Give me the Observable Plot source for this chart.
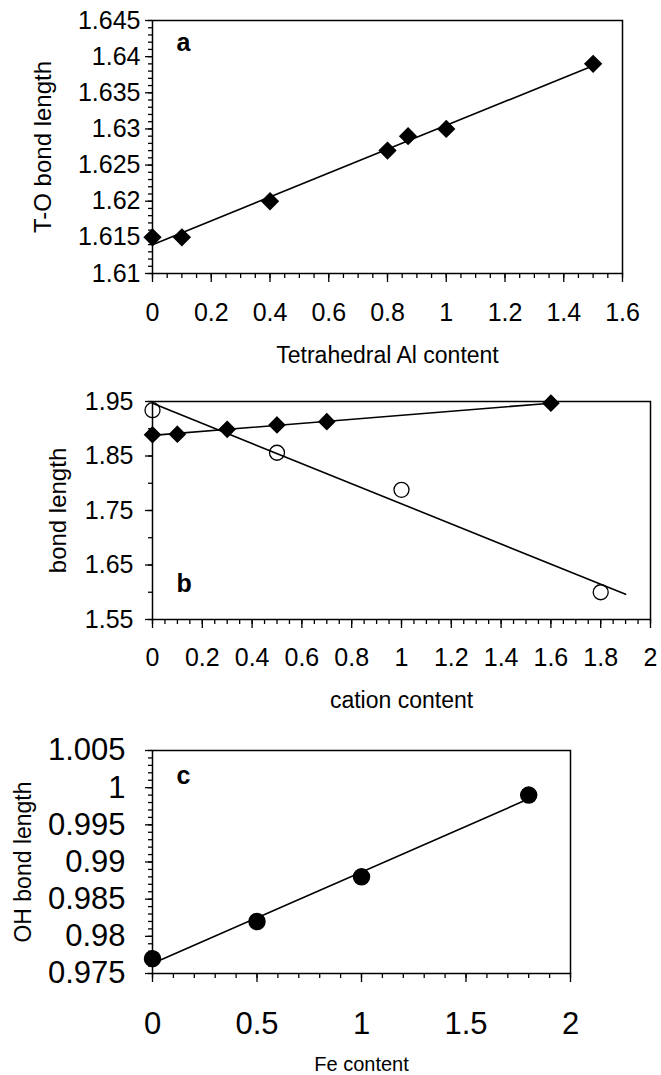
<!DOCTYPE html>
<html>
<head>
<meta charset="utf-8">
<script src="https://cdn.jsdelivr.net/npm/d3@7"></script>
<script src="https://cdn.jsdelivr.net/npm/@observablehq/plot@0.6"></script>
<style>
  html, body { margin: 0; padding: 0; background: #fff; }
  #wrap { position: relative; width: 661px; height: 1075px; overflow: hidden; }
  #wrap > div { position: absolute; left: 0; }
  svg { font-family: "Liberation Sans", Arial, sans-serif; }
</style>
</head>
<body>
<div id="wrap">
  <div id="pa" style="top:0px"></div>
  <div id="pb" style="top:380px"></div>
  <div id="pc" style="top:715px"></div>
</div>
<script>
// ---- Panel a: T-O bond length vs tetrahedral Al content
const aAl = [0, 0.1, 0.4, 0.8, 0.87, 1.0, 1.5];
const aTO = [1.615, 1.615, 1.620, 1.627, 1.629, 1.630, 1.639];
const aFitX = [0, 1.5];
const aXTicks = [0, 0.2, 0.4, 0.6, 0.8, 1, 1.2, 1.4, 1.6];
const aYTicks = [1.61, 1.615, 1.62, 1.625, 1.63, 1.635, 1.64, 1.645];

// ---- Panel b: bond length vs cation content
const bDiamX = [0, 0.1, 0.3, 0.5, 0.7, 1.6];
const bDiamY = [1.889, 1.890, 1.899, 1.907, 1.913, 1.947];
const bCircX = [0, 0.5, 1.0, 1.8];
const bCircY = [1.934, 1.856, 1.788, 1.600];
const bDiamFitX = [0, 1.6];
const bCircFitX = [0, 1.9];
const bXTicks = [0, 0.2, 0.4, 0.6, 0.8, 1, 1.2, 1.4, 1.6, 1.8, 2];
const bYTicks = [1.55, 1.65, 1.75, 1.85, 1.95];

// ---- Panel c: OH bond length vs Fe content
const cFe = [0, 0.5, 1.0, 1.8];
const cOH = [0.977, 0.982, 0.988, 0.999];
const cFitX = [0, 1.8];
const cXTicks = [0, 0.5, 1, 1.5, 2];
const cYTicks = [0.975, 0.98, 0.985, 0.99, 0.995, 1, 1.005];

const fmt = d => String(+d.toFixed(3));

function fit(xs, ys) {
  const mx = d3.mean(xs), my = d3.mean(ys);
  let sxy = 0, sxx = 0;
  xs.forEach((x, i) => { sxy += (x - mx) * (ys[i] - my); sxx += (x - mx) ** 2; });
  const slope = sxy / sxx;
  return {slope, intercept: my - slope * mx};
}
function fitLine(xs, ys, ext) {
  const f = fit(xs, ys);
  return ext.map(x => ({x, y: f.intercept + f.slope * x}));
}
function pts(xs, ys) { return xs.map((x, i) => ({x, y: ys[i]})); }
function minor(lo, hi, step) {
  const n = Math.round((hi - lo) / step);
  return d3.range(n + 1).map(i => +(lo + i * step).toFixed(6));
}

function panel(o) {
  return Plot.plot({
    width: 661, height: o.height,
    marginTop: o.mt, marginBottom: o.mb, marginLeft: 152, marginRight: o.mr,
    style: {background: "transparent", overflow: "visible"},
    x: {domain: o.xd},
    y: {domain: o.yd},
    marks: [
      Plot.axisX({ticks: o.xMinor, tickSize: 5, tickFormat: () => "", label: null, strokeWidth: 1.3}),
      Plot.axisX({ticks: o.xTicks, tickSize: 9, tickPadding: o.xPad, tickFormat: fmt, fontSize: o.xfs, label: null, strokeWidth: 1.3}),
      Plot.axisY({ticks: o.yMinor, tickSize: 4, tickFormat: () => "", label: null, strokeWidth: 1.3}),
      Plot.axisY({ticks: o.yTicks, tickSize: 7, tickPadding: o.yPad, tickFormat: fmt, fontSize: o.yfs, label: null, strokeWidth: 1.3}),
      Plot.frame({stroke: "black", strokeWidth: 1.5}),
      ...o.marks,
      Plot.text([o.xTitle], {frameAnchor: "bottom", dy: o.xTitleDy, fontSize: o.tfs, lineAnchor: "middle"}),
      Plot.text([o.yTitle], {frameAnchor: "left", dx: o.yTitleDx, rotate: -90, fontSize: o.yTfs, textAnchor: "middle", lineAnchor: "middle"}),
      Plot.text([o.letter], {frameAnchor: o.letterAnchor, dx: 24, dy: o.letterDy, fontSize: 25, fontWeight: "bold", lineAnchor: "middle"})
    ]
  });
}

document.getElementById("pa").append(panel({
  height: 380, mt: 20, mb: 107, mr: 39,
  xd: [0, 1.6], yd: [1.61, 1.645],
  xTicks: aXTicks, xMinor: minor(0, 1.6, 0.05),
  yTicks: aYTicks, yMinor: minor(1.61, 1.645, 0.001),
  xPad: 21, yPad: 5, xfs: 25, yfs: 25,
  xTitle: "Tetrahedral Al content", xTitleDy: 82, tfs: 23,
  yTitle: "T-O bond length", yTitleDx: -109, yTfs: 24,
  letter: "a", letterAnchor: "top-left", letterDy: 22,
  marks: [
    Plot.line(fitLine(aAl, aTO, aFitX), {x: "x", y: "y", stroke: "black", strokeWidth: 1.6}),
    Plot.dot(pts(aAl, aTO), {x: "x", y: "y", symbol: "diamond2", r: 7.3, fill: "black", stroke: "black"})
  ]
}));

document.getElementById("pb").append(panel({
  height: 335, mt: 21, mb: 96, mr: 11,
  xd: [0, 2], yd: [1.55, 1.95],
  xTicks: bXTicks, xMinor: minor(0, 2, 0.05),
  yTicks: bYTicks, yMinor: minor(1.55, 1.95, 0.05),
  xPad: 20, yPad: 12, xfs: 25, yfs: 25,
  xTitle: "cation content", xTitleDy: 81, tfs: 23,
  yTitle: "bond length", yTitleDx: -94, yTfs: 24,
  letter: "b", letterAnchor: "bottom-left", letterDy: -36,
  marks: [
    Plot.line(fitLine(bCircX, bCircY, bCircFitX), {x: "x", y: "y", stroke: "black", strokeWidth: 1.6}),
    Plot.line(fitLine(bDiamX, bDiamY, bDiamFitX), {x: "x", y: "y", stroke: "black", strokeWidth: 1.6}),
    Plot.dot(pts(bCircX, bCircY), {x: "x", y: "y", r: 7.5, fill: "white", fillOpacity: 0, stroke: "black", strokeWidth: 1.3}),
    Plot.dot(pts(bDiamX, bDiamY), {x: "x", y: "y", symbol: "diamond2", r: 7, fill: "black", stroke: "black"})
  ]
}));

document.getElementById("pc").append(panel({
  height: 360, mt: 35, mb: 102, mr: 91,
  xd: [0, 2], yd: [0.975, 1.005],
  xTicks: cXTicks, xMinor: minor(0, 2, 0.1),
  yTicks: cYTicks, yMinor: minor(0.975, 1.005, 0.001),
  xPad: 29, yPad: 20, xfs: 31, yfs: 31,
  xTitle: "Fe content", xTitleDy: 91, tfs: 20,
  yTitle: "OH bond length", yTitleDx: -129, yTfs: 23,
  letter: "c", letterAnchor: "top-left", letterDy: 25,
  marks: [
    Plot.line(fitLine(cFe, cOH, cFitX), {x: "x", y: "y", stroke: "black", strokeWidth: 1.6}),
    Plot.dot(pts(cFe, cOH), {x: "x", y: "y", r: 8, fill: "black", stroke: "black"})
  ]
}));
</script>
</body>
</html>
